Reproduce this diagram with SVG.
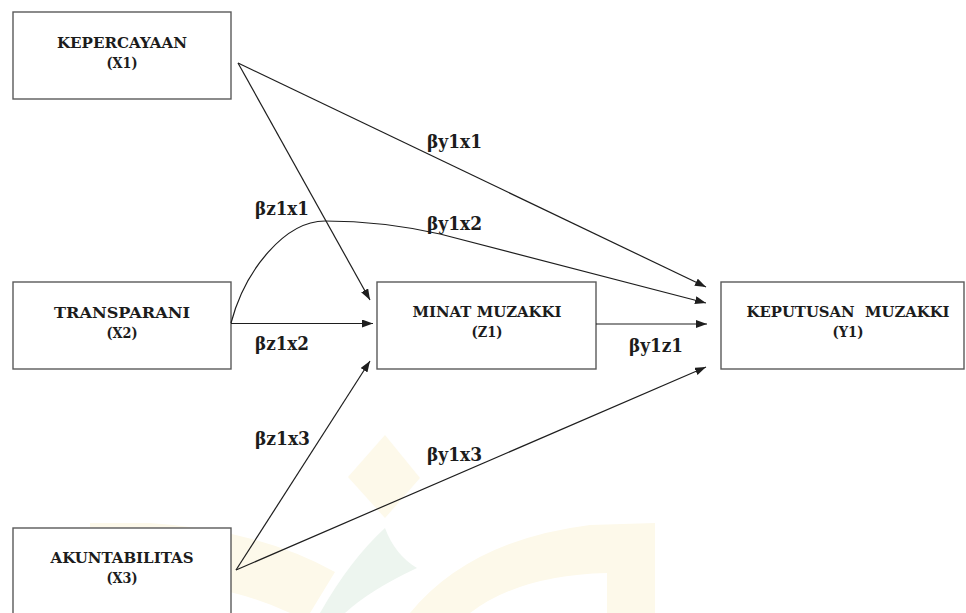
<svg xmlns="http://www.w3.org/2000/svg" width="966" height="613" viewBox="0 0 966 613">
<style>
.box{fill:#fff;stroke:#5a5a5a;stroke-width:1.4}
.nt{font-family:"DejaVu Serif","Liberation Serif",serif;font-weight:bold;font-size:15.5px;fill:#1c1c1c;text-anchor:middle}
.lbl{font-family:"DejaVu Serif","Liberation Serif",serif;font-weight:bold;font-size:18px;fill:#1c1c1c}
.edge{fill:none;stroke:#1e1e1e;stroke-width:1.2;marker-end:url(#ah)}
.wy{fill:#fdf9ea}
.wg{fill:#edf5ef}
</style>
<defs>
<marker id="ah" markerUnits="userSpaceOnUse" markerWidth="11" markerHeight="8" refX="11" refY="4" orient="auto">
<path d="M0,0 L11,4 L0,8 z" fill="#1e1e1e"/>
</marker>
</defs>
<rect width="966" height="613" fill="#fff"/>
<g id="watermark">
<path class="wy" d="M90,523 L150,523 Q260,530 335,572 L310,613 L90,613 Z"/>
<path fill="#fff" d="M150,580 Q230,585 290,613 L150,613 Z"/>
<path class="wy" d="M410,613 Q470,540 590,525 L655,523 L655,613 L607,613 L607,573 Q520,575 470,613 Z"/>
<path class="wy" d="M385,435 L420,478 L385,518 L348,477 Z"/>
<path class="wg" d="M385,528 Q395,555 417,568 Q370,590 345,613 L320,613 Q350,560 385,528 Z"/>
</g>
<g id="x1"><rect class="box" x="13" y="12" width="218" height="87"/><text class="nt" x="122" y="48" textLength="130" lengthAdjust="spacingAndGlyphs">KEPERCAYAAN</text><text class="nt" x="122" y="68" textLength="31" lengthAdjust="spacingAndGlyphs">(X1)</text></g>
<g id="x2"><rect class="box" x="13" y="282" width="218" height="87"/><text class="nt" x="122" y="318" textLength="136" lengthAdjust="spacingAndGlyphs">TRANSPARANI</text><text class="nt" x="122" y="338" textLength="31" lengthAdjust="spacingAndGlyphs">(X2)</text></g>
<g id="x3"><rect class="box" x="13" y="528" width="218" height="95"/><text class="nt" x="122" y="563" textLength="143" lengthAdjust="spacingAndGlyphs">AKUNTABILITAS</text><text class="nt" x="122" y="583" textLength="31" lengthAdjust="spacingAndGlyphs">(X3)</text></g>
<g id="z1"><rect class="box" x="377" y="282" width="219" height="87"/><text class="nt" x="487" y="317" textLength="149" lengthAdjust="spacingAndGlyphs">MINAT MUZAKKI</text><text class="nt" x="487" y="337" textLength="31" lengthAdjust="spacingAndGlyphs">(Z1)</text></g>
<g id="y1"><rect class="box" x="721" y="282" width="243" height="87"/><text class="nt" x="848" y="317" textLength="203" lengthAdjust="spacingAndGlyphs" xml:space="preserve">KEPUTUSAN  MUZAKKI</text><text class="nt" x="848" y="337" textLength="31" lengthAdjust="spacingAndGlyphs">(Y1)</text></g>
<g id="connectors">
<path class="edge" d="M238,63 L706,287"/>
<path class="edge" d="M238,63 L370,300"/>
<path class="edge" d="M231,323 C245,270 285,221 325,221 C365,221 400,225 440,234 L706,303"/>
<path class="edge" d="M231,323.5 L373,323.5"/>
<path class="edge" d="M596,324 L707,324"/>
<path class="edge" d="M236,570 L370,361"/>
<path class="edge" d="M236,570 L706,367"/>
</g>
<g id="labels">
<text class="lbl" x="427" y="148" textLength="55" lengthAdjust="spacingAndGlyphs">βy1x1</text>
<text class="lbl" x="255" y="215" textLength="54" lengthAdjust="spacingAndGlyphs">βz1x1</text>
<text class="lbl" x="427" y="230" textLength="55" lengthAdjust="spacingAndGlyphs">βy1x2</text>
<text class="lbl" x="255" y="350" textLength="54" lengthAdjust="spacingAndGlyphs">βz1x2</text>
<text class="lbl" x="629" y="352" textLength="54" lengthAdjust="spacingAndGlyphs">βy1z1</text>
<text class="lbl" x="255" y="445" textLength="55" lengthAdjust="spacingAndGlyphs">βz1x3</text>
<text class="lbl" x="427" y="461" textLength="55" lengthAdjust="spacingAndGlyphs">βy1x3</text>
</g>
</svg>
